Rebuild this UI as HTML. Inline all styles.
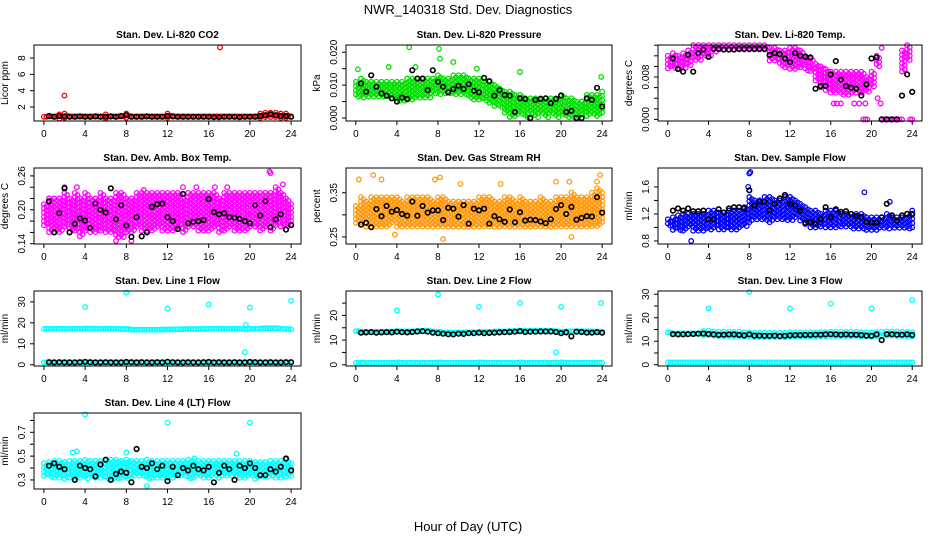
<!DOCTYPE html>
<html><head><meta charset="utf-8"><style>
html,body{margin:0;padding:0;background:#fff;}
svg{display:block;font-family:"Liberation Sans",sans-serif;}
</style></head><body>
<svg id="chart" width="936" height="540" viewBox="0 0 936 540" xmlns="http://www.w3.org/2000/svg">
<rect x="0" y="0" width="936" height="540" fill="#fff"/>
<text x="468" y="14" text-anchor="middle" font-size="13">NWR_140318  Std. Dev. Diagnostics</text>
<text x="468" y="531" text-anchor="middle" font-size="13">Hour of Day (UTC)</text>
<g id="plots"></g>
</svg>
<script>
const hours=[0,0.5,1,1.5,2,2.5,3,3.5,4,4.5,5,5.5,6,6.5,7,7.5,8,8.5,9,9.5,10,10.5,11,11.5,12,12.5,13,13.5,14,14.5,15,15.5,16,16.5,17,17.5,18,18.5,19,19.5,20,20.5,21,21.5,22,22.5,23,23.5,24];
const xTicks=[0,4,8,12,16,20,24];

const p1Lo=[0.6,0.6,0.6,0.55,0.6,0.6,0.6,0.6,0.6,0.6,0.6,0.6,0.55,0.6,0.6,0.6,0.6,0.6,0.6,0.6,0.6,0.6,0.6,0.6,0.6,0.6,0.6,0.6,0.6,0.6,0.6,0.6,0.6,0.6,0.6,0.6,0.6,0.6,0.6,0.6,0.6,0.6,0.6,0.6,0.65,0.65,0.6,0.6,0.6];
const p1Hi=[1.0,1.1,1.1,1.1,1.2,1.1,1.1,1.1,1.1,1.1,1.1,1.1,1.1,1.1,1.1,1.1,1.2,1.1,1.1,1.1,1.1,1.1,1.1,1.1,1.2,1.1,1.1,1.1,1.1,1.1,1.1,1.1,1.1,1.1,1.1,1.1,1.1,1.1,1.1,1.1,1.1,1.1,1.2,1.3,1.3,1.3,1.2,1.2,1.1];
const p1Blk=[null,0.9,0.8,0.9,0.85,0.8,0.8,0.85,0.8,0.8,0.85,0.8,0.8,0.85,0.8,0.9,1.0,0.8,0.8,0.8,0.85,0.8,0.8,0.8,0.9,0.85,0.8,0.8,0.8,0.8,0.8,0.8,0.8,0.75,0.75,0.8,0.8,0.8,0.75,0.8,0.8,0.8,0.9,1.0,1.1,1.0,0.9,0.9,0.8];
const p1OutX=[2,17.1];
const p1OutY=[3.4,9.3];

const p2Lo=[0.006,0.006,0.006,0.006,0.0065,0.006,0.006,0.006,0.005,0.005,0.005,0.0055,0.006,0.006,0.006,0.007,0.007,0.007,0.007,0.007,0.007,0.007,0.006,0.005,0.005,0.005,0.004,0.003,0.003,0.001,0.0,0.0,0.001,0.0,0.001,0.0,0.001,0.0,0.001,0.0,0.001,0.0,0.0,0.0,0.001,0.0,0.001,0.0,0.001];
const p2Hi=[0.011,0.012,0.011,0.011,0.011,0.011,0.011,0.011,0.011,0.011,0.012,0.012,0.012,0.012,0.012,0.012,0.013,0.012,0.012,0.013,0.013,0.013,0.012,0.012,0.012,0.011,0.011,0.010,0.009,0.008,0.008,0.007,0.007,0.006,0.006,0.006,0.006,0.006,0.006,0.006,0.007,0.006,0.006,0.005,0.005,0.007,0.007,0.007,0.008];
const p2Blk=[null,0.0105,0.008,0.013,0.0095,0.0075,0.0068,0.006,0.005,0.0062,0.0058,0.0145,0.012,0.012,0.0085,0.0145,0.011,0.0095,0.0078,0.0088,0.0098,0.0088,0.0103,0.0083,0.0078,0.0122,0.0112,0.0068,0.0085,0.007,0.0068,0.0018,0.006,0.0058,0.0,0.0055,0.0058,0.006,0.0045,0.0058,0.0068,0.0018,0.0022,0.0,0.0,0.006,0.0055,0.0092,0.0035];
const p2OutX=[0.2,3.2,5.2,5.8,8.1,8.2,9.5,16,23.9,11.8];
const p2OutY=[0.0148,0.0155,0.0215,0.0155,0.021,0.018,0.017,0.014,0.0125,0.015];

const p3Lo=[0.0095,0.0095,0.0095,0.0095,0.010,0.011,0.011,0.012,0.012,0.0125,0.013,0.013,0.013,0.013,0.013,0.013,0.013,0.013,0.013,0.013,0.011,0.011,0.010,0.0095,0.0095,0.0095,0.0095,0.009,0.009,0.007,0.006,0.0055,0.005,0.005,0.0045,0.0045,0.005,0.005,0.005,0.005,0.006,0.010,0.0,0.0,0.0,0.0,0.009,0.011,0.0];
const p3Hi=[0.012,0.0125,0.012,0.0125,0.013,0.014,0.014,0.014,0.014,0.014,0.014,0.014,0.014,0.014,0.014,0.014,0.014,0.014,0.014,0.014,0.0135,0.0135,0.013,0.013,0.0135,0.0135,0.013,0.012,0.0115,0.0105,0.010,0.0095,0.009,0.009,0.009,0.009,0.009,0.009,0.009,0.008,0.009,0.012,0.0,0.0,0.0,0.0,0.013,0.014,0.0];
const p3Blk=[null,0.0115,0.0095,0.009,0.0122,0.009,0.0125,0.0132,0.0118,0.0133,0.0133,0.0132,0.0132,0.0132,0.0133,0.0133,0.0133,0.0133,0.0133,0.0133,0.0122,0.0125,0.0123,0.0115,0.0108,0.0125,0.012,0.0118,0.0117,0.0058,0.0063,0.0063,0.0085,0.011,0.0075,0.0063,0.006,0.0058,0.0045,0.0066,0.0115,0.0117,0.0,0.0,0.0,0.0,0.0045,0.0085,0.0052];
const p3OutX=[19.2,19.4,19.6,22,23.0,23.4,21.0,16.3,16.6,17.0,18.3,18.8,19.4,20.6,20.9,23.8];
const p3OutY=[0,0,0,0,0,0.0125,0.0135,0.003,0.003,0.003,0.003,0.003,0.003,0.004,0.003,0.0];

const p4Lo=[0.17,0.16,0.16,0.16,0.17,0.16,0.16,0.15,0.16,0.16,0.16,0.16,0.16,0.16,0.15,0.15,0.16,0.16,0.17,0.16,0.16,0.16,0.17,0.16,0.16,0.16,0.17,0.16,0.17,0.17,0.16,0.16,0.16,0.17,0.16,0.16,0.17,0.16,0.16,0.16,0.17,0.17,0.16,0.17,0.16,0.17,0.17,0.17,0.17];
const p4Hi=[0.21,0.22,0.22,0.22,0.23,0.22,0.23,0.22,0.23,0.22,0.22,0.23,0.22,0.22,0.23,0.23,0.22,0.22,0.23,0.23,0.23,0.23,0.23,0.23,0.23,0.23,0.23,0.22,0.23,0.23,0.23,0.23,0.23,0.23,0.22,0.23,0.23,0.23,0.23,0.23,0.23,0.23,0.23,0.23,0.23,0.24,0.23,0.22,0.21];
const p4Blk=[null,0.215,0.16,0.194,0.238,0.16,0.175,0.185,0.181,0.168,0.211,0.2,0.195,0.238,0.183,0.208,0.172,0.152,0.187,0.153,0.16,0.205,0.21,0.211,0.187,0.18,0.166,0.228,0.176,0.179,0.18,0.182,0.219,0.196,0.192,0.194,0.187,0.186,0.184,0.18,0.176,0.208,0.19,0.215,0.169,0.183,0.192,0.165,0.173];
const p4OutX=[2,3.2,7,9.7,13.5,14.8,16.6,17.8,21.9,22,23.2,8.5];
const p4OutY=[0.24,0.24,0.145,0.235,0.24,0.24,0.24,0.24,0.268,0.265,0.245,0.145];

const p5Lo=[0.28,0.28,0.27,0.27,0.27,0.27,0.27,0.28,0.27,0.27,0.27,0.27,0.27,0.27,0.27,0.27,0.27,0.27,0.27,0.27,0.27,0.27,0.27,0.27,0.27,0.27,0.27,0.27,0.27,0.27,0.27,0.27,0.27,0.27,0.27,0.27,0.27,0.27,0.27,0.27,0.27,0.27,0.27,0.27,0.27,0.27,0.27,0.27,0.28];
const p5Hi=[0.32,0.34,0.33,0.34,0.34,0.34,0.34,0.34,0.34,0.33,0.34,0.34,0.34,0.34,0.34,0.33,0.34,0.34,0.33,0.33,0.33,0.33,0.33,0.33,0.34,0.34,0.34,0.33,0.33,0.34,0.34,0.33,0.34,0.33,0.33,0.33,0.34,0.33,0.33,0.34,0.34,0.34,0.35,0.34,0.34,0.34,0.35,0.36,0.35];
const p5Blk=[null,0.278,0.282,0.272,0.313,0.297,0.32,0.307,0.311,0.302,0.298,0.33,0.298,0.32,0.305,0.31,0.31,0.288,0.316,0.314,0.296,0.322,0.28,0.314,0.31,0.314,0.28,0.297,0.29,0.284,0.312,0.283,0.306,0.287,0.289,0.288,0.285,0.281,0.29,0.313,0.322,0.302,0.318,0.289,0.293,0.297,0.296,0.34,0.305];
const p5OutX=[0.3,1.7,2.5,7.7,8.2,10.2,14.1,19.5,20.8,21.0,23.5,23.8,3.8,8.5];
const p5OutY=[0.38,0.39,0.38,0.38,0.385,0.37,0.37,0.375,0.375,0.25,0.375,0.39,0.255,0.245];

const p6Lo=[1.0,0.95,0.95,0.95,1.0,0.95,0.95,0.95,0.95,1.0,0.95,0.95,0.97,0.97,1.0,1.0,1.05,1.1,1.1,1.1,1.05,1.1,1.1,1.1,1.1,1.15,1.1,1.05,1.0,1.0,1.0,1.0,1.0,1.0,1.0,1.0,0.97,0.97,0.97,0.95,0.95,0.95,0.97,0.97,0.97,0.97,0.97,0.97,1.0];
const p6Hi=[1.12,1.15,1.18,1.2,1.2,1.2,1.2,1.2,1.25,1.25,1.22,1.22,1.25,1.25,1.25,1.3,1.45,1.4,1.4,1.45,1.45,1.4,1.4,1.45,1.45,1.4,1.35,1.3,1.25,1.25,1.2,1.25,1.25,1.25,1.2,1.2,1.2,1.2,1.2,1.15,1.15,1.15,1.15,1.2,1.15,1.15,1.15,1.2,1.25];
const p6Blk=[null,1.25,1.28,1.25,1.28,1.24,1.24,1.25,1.12,1.12,1.27,1.22,1.28,1.3,1.3,1.28,1.55,1.32,1.38,1.38,1.25,1.35,1.43,1.48,1.35,1.32,1.25,1.07,1.08,1.05,1.12,1.3,1.15,1.27,1.23,1.24,1.2,1.17,1.15,1.08,1.07,1.07,1.15,1.35,1.18,1.1,1.18,1.2,1.2];
const p6OutX=[2.3,8.0,8.1,19.3,7.9,21.8];
const p6OutY=[0.8,1.8,1.82,1.52,1.6,1.38];

const p7Lo=[16.5,16.3,16.3,16.4,16.3,16.3,16.4,16.3,16.3,16.4,16.3,16.3,16.4,16.3,16.3,16.3,16.2,16.0,16.0,16.0,16.0,16.0,16.0,16.1,16.0,16.1,16.1,16.2,16.2,16.2,16.3,16.3,16.3,16.4,16.4,16.3,16.3,16.3,16.3,16.2,16.3,16.3,16.4,16.5,16.5,16.5,16.3,16.2,16.2];
const p7Hi=[17.8,18.0,18.0,18.0,18.0,18.0,18.0,18.0,18.2,18.0,18.0,18.0,18.0,18.0,18.0,17.8,17.8,17.5,17.5,17.5,17.5,17.5,17.5,17.6,17.7,17.7,17.8,17.8,17.8,17.8,17.8,17.8,18.0,18.0,18.0,18.0,18.0,18.0,18.0,17.9,18.0,18.0,18.2,18.4,18.4,18.3,18.0,17.8,17.6];
const p7Lo2=[0.8,0.8,0.8,0.8,0.8,0.8,0.8,0.8,0.8,0.8,0.8,0.8,0.8,0.8,0.8,0.8,0.8,0.8,0.8,0.8,0.8,0.8,0.8,0.8,0.8,0.8,0.8,0.8,0.8,0.8,0.8,0.8,0.8,0.8,0.8,0.8,0.8,0.8,0.8,0.8,0.8,0.8,0.8,0.8,0.8,0.8,0.8,0.8,0.8];
const p7Hi2=[1.4,1.4,1.4,1.4,1.4,1.4,1.4,1.4,1.4,1.4,1.4,1.4,1.4,1.4,1.4,1.4,1.4,1.4,1.4,1.4,1.4,1.4,1.4,1.4,1.4,1.4,1.4,1.4,1.4,1.4,1.4,1.4,1.4,1.4,1.4,1.4,1.4,1.4,1.4,1.4,1.4,1.4,1.4,1.4,1.4,1.4,1.4,1.4,1.4];
const p7Blk=[null,1.2,1.1,1.2,1.1,1.1,1.1,1.2,1.4,1.2,1.1,1.1,1.2,1.1,1.1,1.1,1.3,1.2,1.1,1.2,1.1,1.1,1.2,1.1,1.4,1.2,1.1,1.1,1.2,1.1,1.1,1.2,1.3,1.1,1.2,1.1,1.1,1.2,1.1,1.1,1.3,1.2,1.1,1.1,1.2,1.1,1.1,1.2,1.2];
const p7OutX=[4,8,12,16,20,24,19.5,19.6];
const p7OutY=[27.5,34.5,26.8,28.8,27.3,30.5,6,19];

const p8Lo=[13.0,12.8,12.7,12.7,12.7,12.7,12.7,12.7,12.8,12.8,12.8,12.8,13.0,13.0,13.0,12.7,12.6,12.3,12.3,12.3,12.3,12.4,12.5,12.5,12.6,12.6,12.7,12.8,12.8,12.8,12.9,12.9,13.0,13.0,13.0,13.0,13.0,13.0,13.0,12.8,12.6,12.8,12.8,12.8,12.8,12.8,12.8,12.7,12.7];
const p8Hi=[14.2,14.0,14.0,14.0,14.0,14.0,14.2,14.2,14.3,14.2,14.2,14.3,14.4,14.4,14.4,14.2,14.0,13.8,13.8,13.8,13.8,13.8,13.8,13.8,14.0,14.0,14.0,14.2,14.2,14.2,14.4,14.4,14.5,14.4,14.4,14.4,14.4,14.4,14.4,14.3,14.2,14.3,14.3,14.3,14.3,14.3,14.2,14.2,14.0];
const p8Lo2=[0.3,0.3,0.3,0.3,0.3,0.3,0.3,0.3,0.3,0.3,0.3,0.3,0.3,0.3,0.3,0.3,0.3,0.3,0.3,0.3,0.3,0.3,0.3,0.3,0.3,0.3,0.3,0.3,0.3,0.3,0.3,0.3,0.3,0.3,0.3,0.3,0.3,0.3,0.3,0.3,0.3,0.3,0.3,0.3,0.3,0.3,0.3,0.3,0.3];
const p8Hi2=[1.3,1.3,1.3,1.3,1.3,1.3,1.3,1.3,1.5,1.3,1.3,1.3,1.3,1.3,1.3,1.3,1.5,1.3,1.3,1.3,1.3,1.3,1.3,1.3,1.5,1.3,1.3,1.3,1.3,1.3,1.3,1.3,1.5,1.3,1.3,1.3,1.3,1.3,1.3,1.3,1.5,1.3,1.3,1.3,1.3,1.3,1.3,1.3,1.3];
const p8Blk=[null,13.0,13.1,13.2,13.0,13.1,13.2,13.1,13.4,13.2,13.1,13.3,13.5,13.6,13.4,13.0,12.8,12.6,12.4,12.3,12.6,12.5,12.8,12.8,13.0,12.8,12.9,13.0,13.1,13.2,13.3,13.4,13.6,13.3,13.4,13.4,13.5,13.5,13.5,13.3,12.8,13.1,11.5,13.4,13.3,13.0,13.0,13.2,13.0];
const p8OutX=[4,8,12,16,20,19.5,23.9];
const p8OutY=[22,28.5,23.5,25,23.5,5,25];

const p9Lo=[13.0,12.5,12.5,12.5,12.5,12.5,12.5,12.5,12.5,12.3,12.2,12.2,12.2,12.2,12.2,12.0,12.0,11.8,11.8,11.8,11.8,11.8,11.8,11.8,11.9,12.0,12.0,12.0,12.0,12.0,12.1,12.1,12.2,12.2,12.2,12.2,12.2,12.2,12.0,12.0,11.8,12.0,12.0,12.2,12.2,12.2,12.2,12.1,12.0];
const p9Hi=[14.5,14.2,14.2,14.2,14.2,14.2,14.2,14.3,14.5,14.2,14.0,14.0,14.0,14.0,14.0,13.8,13.8,13.6,13.6,13.6,13.6,13.6,13.6,13.6,13.8,13.8,13.8,13.8,13.8,13.8,13.9,13.9,14.0,14.0,14.0,14.0,14.0,14.0,13.9,13.8,13.7,13.9,14.0,14.2,14.2,14.2,14.0,13.9,13.8];
const p9Lo2=[0.4,0.4,0.4,0.4,0.4,0.4,0.4,0.4,0.4,0.4,0.4,0.4,0.4,0.4,0.4,0.4,0.4,0.4,0.4,0.4,0.4,0.4,0.4,0.4,0.4,0.4,0.4,0.4,0.4,0.4,0.4,0.4,0.4,0.4,0.4,0.4,0.4,0.4,0.4,0.4,0.4,0.4,0.4,0.4,0.4,0.4,0.4,0.4,0.4];
const p9Hi2=[1.6,1.6,1.6,1.6,1.6,1.6,1.6,1.6,1.6,1.6,1.6,1.6,1.6,1.6,1.6,1.6,1.6,1.6,1.6,1.6,1.6,1.6,1.6,1.6,1.6,1.6,1.6,1.6,1.6,1.6,1.6,1.6,1.6,1.6,1.6,1.6,1.6,1.6,1.6,1.6,1.6,1.6,1.6,1.6,1.6,1.6,1.6,1.6,1.6];
const p9Blk=[null,13.0,12.9,12.9,13.0,13.1,13.2,13.3,13.1,12.9,12.7,12.8,12.9,12.9,12.7,12.5,12.9,12.4,12.4,12.3,12.3,12.4,12.2,12.3,12.5,12.6,12.6,12.7,12.7,12.8,12.8,12.9,13.0,12.9,12.8,12.9,12.8,12.8,12.6,12.4,12.3,12.9,10.5,13.0,13.0,12.8,12.8,12.9,12.7];
const p9OutX=[4,8,12,16,20,24];
const p9OutY=[24,31,24,26,24,27.5];

const p10Lo=[0.33,0.31,0.31,0.31,0.30,0.31,0.31,0.31,0.31,0.32,0.31,0.31,0.31,0.31,0.31,0.31,0.31,0.31,0.32,0.32,0.31,0.31,0.31,0.31,0.31,0.31,0.32,0.32,0.31,0.31,0.32,0.31,0.31,0.32,0.31,0.32,0.32,0.32,0.31,0.31,0.32,0.30,0.31,0.31,0.32,0.31,0.31,0.32,0.32];
const p10Hi=[0.44,0.45,0.46,0.46,0.45,0.46,0.46,0.46,0.47,0.46,0.46,0.46,0.47,0.47,0.47,0.46,0.47,0.46,0.46,0.46,0.47,0.46,0.46,0.46,0.46,0.46,0.46,0.46,0.47,0.46,0.46,0.46,0.46,0.46,0.46,0.46,0.46,0.46,0.46,0.46,0.46,0.45,0.45,0.45,0.46,0.46,0.46,0.47,0.44];
const p10Blk=[null,0.42,0.44,0.41,0.39,null,0.3,0.42,0.4,0.39,0.33,0.43,0.47,0.3,0.35,0.37,0.36,0.28,0.56,0.41,0.4,0.44,0.39,0.42,0.29,0.41,0.34,0.4,0.38,0.42,0.39,0.38,0.41,0.28,0.36,0.42,0.39,0.3,0.42,0.4,0.44,0.4,0.34,0.34,0.39,0.37,0.41,0.48,0.38];
const p10OutX=[4,12,20,2.8,3.2,10,8.0,14.6,18.7];
const p10OutY=[0.85,0.78,0.78,0.53,0.54,0.25,0.53,0.48,0.52];

const yTicks1=[2,4,6,8];const yLabels1=["2","4","6","8"];
const yTicks2=[0,0.005,0.01,0.015,0.02];const yLabels2=["0.000","","0.010","","0.020"];
const yTicks3=[0,0.002,0.004,0.006,0.008,0.010,0.012,0.014];const yLabels3=["0.000","","","","0.008","","",""];
const yTicks4=[0.14,0.16,0.18,0.20,0.22,0.24,0.26];const yLabels4=["0.14","","","0.20","","","0.26"];
const yTicks5=[0.25,0.30,0.35];const yLabels5=["0.25","","0.35"];
const yTicks6=[0.8,1.0,1.2,1.4,1.6];const yLabels6=["0.8","","1.2","","1.6"];
const yTicks7=[0,10,20,30];const yLabels7=["0","10","20","30"];
const yTicks8=[0,5,10,15,20,25];const yLabels8=["0","","10","","20",""];
const yTicks9=[0,5,10,15,20,25,30];const yLabels9=["0","","10","","20","","30"];
const yTicks10=[0.3,0.4,0.5,0.6,0.7,0.8];const yLabels10=["0.3","","0.5","","0.7",""];

const cols=[[34,301],[346,612],[658,922]];
const rows=[[45,121],[168,244],[291,366],[413,489]];
const panels=[
 {id:"co2",title:"Stan. Dev. Li-820 CO2",ylab:"Licor ppm",c:0,r:0,ymin:0.29,ymax:9.6,ticks:yTicks1,labels:yLabels1,col:"#ff0000",bands:[[p1Lo,p1Hi]],blk:p1Blk,ox:p1OutX,oy:p1OutY},
 {id:"pressure",title:"Stan. Dev. Li-820 Pressure",ylab:"kPa",c:1,r:0,ymin:-0.0009,ymax:0.0222,ticks:yTicks2,labels:yLabels2,col:"#00e000",bands:[[p2Lo,p2Hi]],blk:p2Blk,ox:p2OutX,oy:p2OutY},
 {id:"li820-temp",title:"Stan. Dev. Li-820 Temp.",ylab:"degrees C",c:2,r:0,ymin:-0.0003,ymax:0.01404,ticks:yTicks3,labels:yLabels3,col:"#ff00ff",bands:[[p3Lo,p3Hi]],blk:p3Blk,ox:p3OutX,oy:p3OutY},
 {id:"amb-box-temp",title:"Stan. Dev. Amb. Box Temp.",ylab:"degrees C",c:0,r:1,ymin:0.1395,ymax:0.274,ticks:yTicks4,labels:yLabels4,col:"#ff00ff",bands:[[p4Lo,p4Hi]],blk:p4Blk,ox:p4OutX,oy:p4OutY},
 {id:"gas-rh",title:"Stan. Dev. Gas Stream RH",ylab:"percent",c:1,r:1,ymin:0.234,ymax:0.406,ticks:yTicks5,labels:yLabels5,col:"#ff9a10",bands:[[p5Lo,p5Hi]],blk:p5Blk,ox:p5OutX,oy:p5OutY},
 {id:"sample-flow",title:"Stan. Dev. Sample Flow",ylab:"ml/min",c:2,r:1,ymin:0.755,ymax:1.88,ticks:yTicks6,labels:yLabels6,col:"#0000ff",bands:[[p6Lo,p6Hi]],blk:p6Blk,ox:p6OutX,oy:p6OutY},
 {id:"line1-flow",title:"Stan. Dev. Line 1 Flow",ylab:"ml/min",c:0,r:2,ymin:-0.6,ymax:35.2,ticks:yTicks7,labels:yLabels7,col:"#00ffff",bands:[[p7Lo,p7Hi],[p7Lo2,p7Hi2]],blk:p7Blk,ox:p7OutX,oy:p7OutY},
 {id:"line2-flow",title:"Stan. Dev. Line 2 Flow",ylab:"ml/min",c:1,r:2,ymin:-0.5,ymax:29.9,ticks:yTicks8,labels:yLabels8,col:"#00ffff",bands:[[p8Lo,p8Hi],[p8Lo2,p8Hi2]],blk:p8Blk,ox:p8OutX,oy:p8OutY},
 {id:"line3-flow",title:"Stan. Dev. Line 3 Flow",ylab:"ml/min",c:2,r:2,ymin:-0.55,ymax:31.4,ticks:yTicks9,labels:yLabels9,col:"#00ffff",bands:[[p9Lo,p9Hi],[p9Lo2,p9Hi2]],blk:p9Blk,ox:p9OutX,oy:p9OutY},
 {id:"line4-flow",title:"Stan. Dev. Line 4 (LT) Flow",ylab:"ml/min",c:0,r:3,ymin:0.224,ymax:0.862,ticks:yTicks10,labels:yLabels10,col:"#00ffff",bands:[[p10Lo,p10Hi]],blk:p10Blk,ox:p10OutX,oy:p10OutY}
];
const NS="http://www.w3.org/2000/svg";
const root=document.getElementById("plots");
function el(tag,attrs,parent){const e=document.createElementNS(NS,tag);for(const k in attrs)e.setAttribute(k,attrs[k]);parent.appendChild(e);return e;}
function circ(g,x,y,color,name,sw){
  const c=el("circle",{cx:x.toFixed(1),cy:y.toFixed(1),r:2.3,fill:"none",stroke:color,"stroke-width":sw||1.3},g);
  
  
}
panels.forEach(p=>{
  const [x0,x1]=cols[p.c],[y0,y1]=rows[p.r];
  const xs=h=>x0+(h+0.96)/25.92*(x1-x0);
  const ys=v=>y1-(v-p.ymin)/(p.ymax-p.ymin)*(y1-y0);
  const g=el("g",{},root);
  
  
  const t=el("text",{x:(x0+x1)/2,y:y0-7,"text-anchor":"middle","font-size":10,"font-weight":"bold"},g);
  t.textContent=p.title;
  
  
  const cx=x0-26,cy=(y0+y1)/2;
  const yl=el("text",{x:cx,y:cy,"text-anchor":"middle","font-size":10,transform:`rotate(-90 ${cx} ${cy})`},g);
  yl.textContent=p.ylab;
  
  
  const mg=el("g",{},g);
  
  
  const pxStep=4.2;
  p.bands.forEach(([lo,hi])=>{
    const n=Math.min(hours.length,lo.length,hi.length);
    for(let i=0;i<n;i++){
      const ya=ys(lo[i]),yb=ys(hi[i]);
      [[hours[i],0],[hours[i]+0.25,2.1]].forEach(([h,off])=>{
        if(h>24)return;
        const x=xs(h);
        const top=Math.min(ya,yb),bot=Math.max(ya,yb);
        if(bot-top<pxStep){circ(mg,x,(top+bot)/2,p.col,p.id+'-point');return;}
        for(let y=top+off;y<=bot+0.01;y+=pxStep)circ(mg,x,y,p.col,p.id+'-point');
      });
    }
  });
  for(let i=0;i<p.ox.length;i++)circ(mg,xs(p.ox[i]),ys(p.oy[i]),p.col,p.id+'-outlier');
  for(let i=0;i<Math.min(hours.length,p.blk.length);i++){
    if(p.blk[i]===null)continue;
    circ(mg,xs(hours[i]),ys(p.blk[i]),"#000",p.id+'-black-point',1.6);
  }
  const b=el("rect",{x:x0,y:y0,width:x1-x0,height:y1-y0,fill:"none",stroke:"#000","stroke-width":1},g);
  
  
  const xa=el("g",{},g);
  
  
  el("line",{x1:xs(xTicks[0]),x2:xs(xTicks[xTicks.length-1]),y1:y1,y2:y1,stroke:"#000"},xa);
  xTicks.forEach(v=>{
    el("line",{x1:xs(v),x2:xs(v),y1:y1,y2:y1+4,stroke:"#000"},xa);
    const tx=el("text",{x:xs(v),y:y1+16,"text-anchor":"middle","font-size":10},xa);
    tx.textContent=v;
    
    
  });
  const ya=el("g",{},g);
  
  
  el("line",{x1:x0,x2:x0,y1:ys(p.ticks[0]),y2:ys(p.ticks[p.ticks.length-1]),stroke:"#000"},ya);
  p.ticks.forEach((v,i)=>{
    const y=ys(v);
    el("line",{x1:x0-4,x2:x0,y1:y,y2:y,stroke:"#000"},ya);
    if(p.labels[i]){
      const lx=x0-9;
      const tl=el("text",{x:lx,y:y,"text-anchor":"middle","font-size":10,transform:`rotate(-90 ${lx} ${y})`},ya);
      tl.textContent=p.labels[i];
      
      
    }
  });
});
</script>
</body></html>
